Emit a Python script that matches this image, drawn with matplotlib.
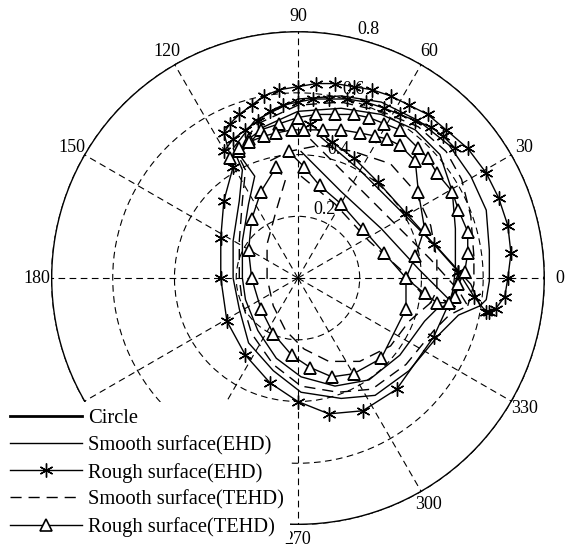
import numpy as np
import matplotlib.pyplot as plt
from matplotlib.lines import Line2D

plt.rcParams['font.family'] = ['Liberation Serif', 'DejaVu Serif']

# ── data: journal centre orbits, eccentricity components (ex, ey) ──
circle_r = 0.8

# rough surface (EHD) – asterisks
rough_ehd_1_x = [0.04, 0.11, 0.18, 0.26, 0.35, 0.44, 0.52, 0.49, 0.44, 0.32, 0.21, 0.10, 0.00,
                 -0.09, -0.17, -0.23, -0.25, -0.25, -0.24, -0.21, -0.24, -0.22, -0.19, -0.15, -0.11,
                 -0.06, 0.00, 0.06, 0.12, 0.18, 0.24, 0.30, 0.36, 0.42, 0.48, 0.55, 0.61, 0.65,
                 0.68, 0.69, 0.68, 0.67, 0.64, 0.62, 0.61, 0.57, 0.52]
rough_ehd_1_y = [0.50, 0.44, 0.39, 0.31, 0.21, 0.11, 0.02, -0.08, -0.19, -0.36, -0.43, -0.44, -0.40,
                 -0.34, -0.25, -0.14, 0.00, 0.13, 0.25, 0.36, 0.47, 0.50, 0.53, 0.56, 0.59,
                 0.61, 0.62, 0.63, 0.63, 0.62, 0.61, 0.59, 0.56, 0.53, 0.48, 0.42, 0.34, 0.26,
                 0.17, 0.08, 0.00, -0.06, -0.10, -0.11, -0.11, -0.06, 0.02]
rough_ehd_2_x = [-0.24, -0.21, -0.17, -0.13, -0.09, -0.05, 0.00, 0.05, 0.10, 0.16, 0.22, 0.28,
                 0.33, 0.38, 0.43, 0.47, 0.51]
rough_ehd_2_y = [0.41, 0.45, 0.48, 0.51, 0.54, 0.56, 0.57, 0.58, 0.58, 0.58, 0.57, 0.55,
                 0.53, 0.51, 0.49, 0.46, 0.42]

# rough surface (TEHD) – triangles
rough_tehd_1_x = [-0.19, -0.16, -0.12, -0.06, 0.00, 0.06, 0.12, 0.18, 0.23, 0.28, 0.33, 0.39, 0.42,
                  0.45, 0.50, 0.52, 0.55, 0.55, 0.54, 0.52, 0.51, 0.49, 0.45, 0.41, 0.35, 0.28,
                  0.21, 0.14, 0.07, 0.02, -0.03]
rough_tehd_1_y = [0.41, 0.45, 0.48, 0.50, 0.52, 0.53, 0.53, 0.53, 0.52, 0.50, 0.48, 0.42, 0.39,
                  0.34, 0.28, 0.22, 0.15, 0.08, 0.02, -0.02, -0.06, -0.08, -0.08, -0.05, 0.00, 0.08,
                  0.16, 0.24, 0.30, 0.36, 0.41]
rough_tehd_2_x = [-0.22, -0.19, -0.16, -0.11, -0.07, -0.02, 0.02, 0.08, 0.14, 0.20, 0.25, 0.29,
                  0.33, 0.38, 0.39, 0.41, 0.38, 0.35, 0.35, 0.27, 0.18, 0.11, 0.04, -0.02, -0.08,
                  -0.12, -0.15, -0.16, -0.15, -0.12, -0.07]
rough_tehd_2_y = [0.39, 0.42, 0.44, 0.46, 0.47, 0.48, 0.48, 0.48, 0.48, 0.47, 0.46, 0.45,
                  0.43, 0.38, 0.28, 0.16, 0.07, 0.00, -0.10, -0.26, -0.31, -0.32, -0.29, -0.25, -0.18,
                  -0.10, 0.00, 0.09, 0.19, 0.28, 0.36]

# smooth surface (EHD) – thin solid
smooth_ehd_1_x = [0.07, 0.20, 0.33, 0.46, 0.56, 0.59, 0.52, 0.46, 0.36, 0.25, 0.14, 0.01, -0.08, -0.16,
                  -0.19, -0.21, -0.21, -0.19, -0.18, -0.21, -0.14, 0.00, 0.14, 0.27, 0.39, 0.49,
                  0.56, 0.61, 0.62, 0.62, 0.61, 0.59]
smooth_ehd_1_y = [0.46, 0.35, 0.22, 0.09, -0.02, -0.09, -0.12, -0.18, -0.30, -0.38, -0.39, -0.37, -0.30, -0.21,
                  -0.10, 0.00, 0.12, 0.25, 0.35, 0.42, 0.51, 0.58, 0.59, 0.57, 0.51, 0.43,
                  0.33, 0.22, 0.09, -0.01, -0.07, -0.09]
smooth_ehd_2_x = [0.01, 0.14, 0.27, 0.39, 0.48, 0.50, 0.45, 0.41, 0.33, 0.23, 0.12, 0.01, -0.07, -0.13,
                  -0.17, -0.18, -0.18, -0.16, -0.14, -0.19, -0.11, 0.00, 0.14, 0.27, 0.38, 0.46,
                  0.50, 0.51, 0.51, 0.50, 0.50]
smooth_ehd_2_y = [0.41, 0.28, 0.16, 0.03, -0.06, -0.08, -0.10, -0.14, -0.25, -0.33, -0.35, -0.32, -0.26, -0.17,
                  -0.07, 0.00, 0.12, 0.24, 0.33, 0.40, 0.49, 0.54, 0.55, 0.53, 0.48, 0.40,
                  0.28, 0.16, 0.03, -0.06, -0.08]

# smooth surface (TEHD) – dashed
smooth_tehd_1_x = [0.04, 0.17, 0.30, 0.43, 0.52, 0.55, 0.49, 0.44, 0.35, 0.24, 0.13, 0.01, -0.08, -0.15,
                   -0.18, -0.19, -0.19, -0.18, -0.17, -0.20, -0.13, 0.00, 0.14, 0.27, 0.39, 0.48,
                   0.53, 0.56, 0.57, 0.57, 0.55]
smooth_tehd_1_y = [0.45, 0.32, 0.19, 0.06, -0.04, -0.09, -0.12, -0.17, -0.28, -0.36, -0.37, -0.35, -0.28, -0.18,
                   -0.08, 0.00, 0.12, 0.25, 0.35, 0.41, 0.50, 0.56, 0.57, 0.54, 0.49, 0.41,
                   0.32, 0.20, 0.07, -0.02, -0.09]
smooth_tehd_2_x = [0.01, 0.12, 0.23, 0.33, 0.41, 0.43, 0.36, 0.30, 0.20, 0.10, 0.02, -0.04, -0.08,
                   -0.10, -0.10, -0.07, -0.04, -0.09, -0.03, 0.07, 0.18, 0.30, 0.38, 0.43, 0.45,
                   0.45, 0.43]
smooth_tehd_2_y = [0.33, 0.24, 0.12, 0.03, -0.06, -0.08, -0.14, -0.22, -0.27, -0.27, -0.23, -0.17, -0.09,
                   0.00, 0.11, 0.22, 0.32, 0.38, 0.41, 0.43, 0.41, 0.37, 0.28, 0.17, 0.06,
                   -0.04, -0.08]

angle_ticks = np.arange(0, 360, 30)
# 210 and 240 sit under the legend in the original
angle_labels = ['' if a in (210, 240) else str(a) for a in angle_ticks]
r_ticks = [0.2, 0.4, 0.6, 0.8]


def to_polar(x, y):
    x = np.asarray(x)
    y = np.asarray(y)
    return np.arctan2(y, x), np.hypot(x, y)


fig = plt.figure(figsize=(5.71, 5.47), dpi=100)
ax = fig.add_axes([0.0893, 0.0402, 0.865, 0.903], projection='polar')

# grid
dash = (0, (6, 4))
ax.set_ylim(0, 0.8)
ax.set_rticks(r_ticks)
ax.set_yticklabels(['0.2', '0.4', '0.6', '0.8'], fontsize=13)
ax.set_rlabel_position(76)
ax.set_thetagrids(angle_ticks, angle_labels, fontsize=13)
ax.tick_params(axis='x', pad=0)
ax.grid(True, color='black', linestyle=dash, linewidth=0.8)
ax.spines['polar'].set_visible(False)

# circle
th_c = np.linspace(0, 2 * np.pi, 400)
ax.plot(th_c, np.full_like(th_c, circle_r), color='black', lw=2.0, zorder=3)

ast = (6, 2, 0)
kw_se = dict(color='black', lw=1.0)
kw_re = dict(color='black', lw=1.0, marker=ast, ms=10, mew=1.0)
kw_st = dict(color='black', lw=1.0, linestyle=(0, (8, 5)))
kw_rt = dict(color='black', lw=1.0, marker='^', ms=8, mfc='white', mew=1.2)

for xs, ys in [(smooth_ehd_1_x, smooth_ehd_1_y), (smooth_ehd_2_x, smooth_ehd_2_y)]:
    ax.plot(*to_polar(xs, ys), **kw_se)
for xs, ys in [(smooth_tehd_1_x, smooth_tehd_1_y), (smooth_tehd_2_x, smooth_tehd_2_y)]:
    ax.plot(*to_polar(xs, ys), **kw_st)
for xs, ys in [(rough_ehd_1_x, rough_ehd_1_y), (rough_ehd_2_x, rough_ehd_2_y)]:
    ax.plot(*to_polar(xs, ys), **kw_re)
for xs, ys in [(rough_tehd_1_x, rough_tehd_1_y), (rough_tehd_2_x, rough_tehd_2_y)]:
    ax.plot(*to_polar(xs, ys), **kw_rt)

handles = [
    Line2D([], [], color='black', lw=2.0),
    Line2D([], [], **kw_se),
    Line2D([], [], **kw_re),
    Line2D([], [], **kw_st),
    Line2D([], [], **kw_rt),
]
labels = ['Circle', 'Smooth surface(EHD)', 'Rough surface(EHD)',
          'Smooth surface(TEHD)', 'Rough surface(TEHD)']
leg = fig.legend(handles, labels, loc='lower left', bbox_to_anchor=(-0.012, -0.012),
                 fontsize=14.8, frameon=True, framealpha=1, edgecolor='none',
                 facecolor='white', handlelength=3.5, handletextpad=0.3,
                 labelspacing=0.37, borderpad=0.3, fancybox=False)
leg.set_zorder(10)

fig.savefig('out.png', dpi=100)
